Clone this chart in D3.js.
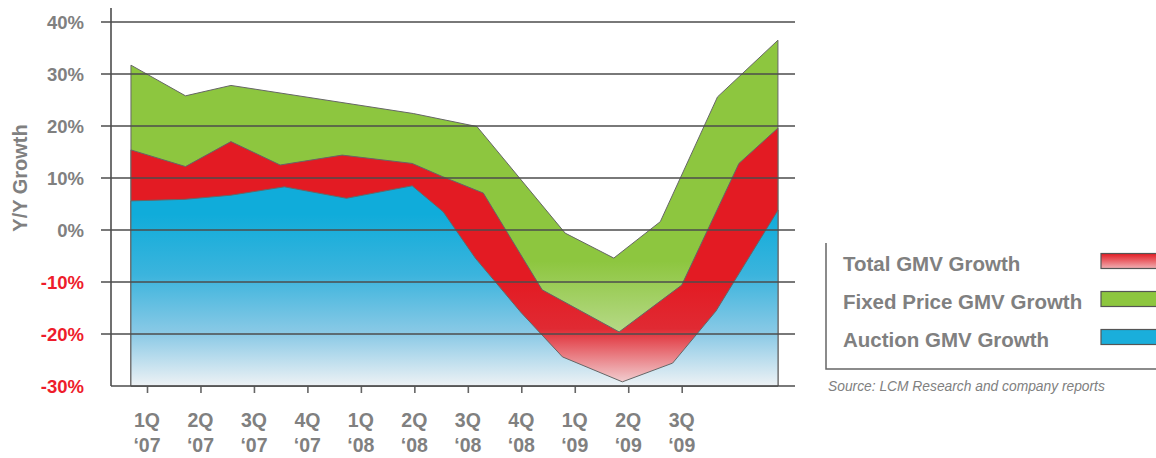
<!DOCTYPE html>
<html>
<head>
<meta charset="utf-8">
<script src="https://cdn.jsdelivr.net/npm/d3@7"></script>
<style>
  body { margin: 0; background: #fff; }
  svg { display: block; font-family: "Liberation Sans", Arial, sans-serif; }
</style>
</head>
<body>
<svg id="chart" width="1156" height="458"></svg>
<script>
// quarter labels (tick positions 0..10)
const quarterLabels = ["1Q", "2Q", "3Q", "4Q", "1Q", "2Q", "3Q", "4Q", "1Q", "2Q", "3Q"];
const yearLabels = ["\u201807", "\u201807", "\u201807", "\u201807", "\u201808", "\u201808", "\u201808", "\u201808", "\u201809", "\u201809", "\u201809"];
const yTicks = [40, 30, 20, 10, 0, -10, -20, -30];

// vertices: position in quarters, growth in %
const fixedX = [-0.3, 0.72, 1.57, 4.98, 6.17, 7.82, 8.73, 9.6, 10.67, 11.8];
const fixedGrowth = [31.7, 25.8, 27.8, 22.4, 19.9, -0.6, -5.4, 1.6, 25.6, 36.5];

const totalX = [-0.3, 0.72, 1.57, 2.49, 3.65, 4.96, 5.52, 6.29, 7.39, 8.83, 10.0, 11.07, 11.8];
const totalGrowth = [15.4, 12.2, 17.0, 12.5, 14.4, 12.8, 10.3, 7.1, -11.5, -19.6, -10.6, 12.8, 19.6];

const auctionX = [-0.3, 0.71, 1.57, 2.57, 3.73, 4.96, 5.54, 6.14, 6.99, 7.77, 8.89, 9.83, 10.64, 11.8];
const auctionGrowth = [5.6, 5.9, 6.7, 8.3, 6.1, 8.5, 3.5, -5.4, -15.8, -24.4, -29.2, -25.6, -15.6, 3.8];

const legendNames = ["Total GMV Growth", "Fixed Price GMV Growth", "Auction GMV Growth"];

const svg = d3.select("#chart");
const grey = "#808080";
const lineCol = "#4d4d4d";

const x = d3.scaleLinear().domain([0, 10]).range([147, 681.7]);
const y = d3.scaleLinear().domain([-30, 40]).range([386, 22]);

// gradients
const defs = svg.append("defs");
function grad(id, stops, y1, y2, units) {
  const g = defs.append("linearGradient")
    .attr("id", id)
    .attr("gradientUnits", units || "userSpaceOnUse")
    .attr("x1", 0).attr("x2", 0)
    .attr("y1", y1).attr("y2", y2);
  stops.forEach(s => g.append("stop").attr("offset", s[0]).attr("stop-color", s[1]));
}
grad("gBlue", [[0, "#10acda"], [0.35, "#3bb4dd"], [0.7, "#8ccae6"], [1, "#eef2f5"]], y(3), y(-30));
grad("gRed", [[0, "#e31b23"], [0.45, "#e02a33"], [1, "#f3dadc"]], y(-10), y(-30));
grad("gGreen", [[0, "#8dc63f"], [1, "#badb8e"]], y(-6), y(-21));
grad("lRed", [[0, "#e31b23"], [1, "#f0b0b4"]], 0, 1, "objectBoundingBox");

const series = [
  { xs: fixedX, vs: fixedGrowth, fill: "url(#gGreen)" },
  { xs: totalX, vs: totalGrowth, fill: "url(#gRed)" },
  { xs: auctionX, vs: auctionGrowth, fill: "url(#gBlue)" }
];

const area = d3.area()
  .x(d => x(d[0]))
  .y0(y(-30))
  .y1(d => y(d[1]));

svg.append("g")
  .selectAll("path")
  .data(series)
  .join("path")
  .attr("d", s => area(d3.zip(s.xs, s.vs)))
  .attr("fill", s => s.fill)
  .attr("stroke", "#666")
  .attr("stroke-width", 1)
  .attr("stroke-linejoin", "round");

// gridlines on top
svg.append("g")
  .selectAll("line")
  .data(yTicks.filter(v => v > -30))
  .join("line")
  .attr("x1", 101).attr("x2", 795)
  .attr("y1", d => y(d)).attr("y2", d => y(d))
  .attr("stroke", lineCol)
  .attr("stroke-width", 1.6);

// axes frame
svg.append("line")
  .attr("x1", 111).attr("x2", 111).attr("y1", 8).attr("y2", y(-30))
  .attr("stroke", lineCol).attr("stroke-width", 1.6);

const xAxis = d3.axisBottom(x)
  .tickValues(d3.range(11))
  .tickSize(7)
  .tickSizeOuter(0)
  .tickFormat("");
const xg = svg.append("g")
  .attr("transform", `translate(0,${y(-30)})`)
  .call(xAxis);
xg.select(".domain").remove();
xg.selectAll(".tick line").attr("stroke", "#666").attr("stroke-width", 1.6);
svg.append("line")
  .attr("x1", 111).attr("x2", 795).attr("y1", y(-30)).attr("y2", y(-30))
  .attr("stroke", lineCol).attr("stroke-width", 1.6);

// x labels
const xl = svg.append("g")
  .selectAll("text")
  .data(d3.range(11))
  .join("text")
  .attr("text-anchor", "middle")
  .attr("font-weight", "bold")
  .attr("font-size", 19.5)
  .attr("fill", grey);
xl.append("tspan").attr("x", d => x(d)).attr("y", 427).text(d => quarterLabels[d]);
xl.append("tspan").attr("x", d => x(d)).attr("y", 452).text(d => yearLabels[d]);

// y labels
svg.append("g")
  .selectAll("text")
  .data(yTicks)
  .join("text")
  .attr("x", 84)
  .attr("y", d => y(d) + 6.5)
  .attr("text-anchor", "end")
  .attr("font-weight", "bold")
  .attr("font-size", 18.5)
  .attr("fill", d => d < 0 ? "#ee1c2b" : grey)
  .text(d => d + "%");

svg.append("text")
  .attr("transform", "translate(27,178) rotate(-90)")
  .attr("text-anchor", "middle")
  .attr("font-weight", "bold")
  .attr("font-size", 20)
  .attr("fill", grey)
  .text("Y/Y Growth");

// legend
svg.append("path")
  .attr("d", "M826,243V369H1156")
  .attr("fill", "none")
  .attr("stroke", "#666")
  .attr("stroke-width", 1.5);

const legFills = ["url(#lRed)", "#8dc63f", "#1aaedb"];
const legY = [270.5, 308.5, 346.5];
const lg = svg.append("g")
  .selectAll("g")
  .data(legendNames)
  .join("g");
lg.append("text")
  .attr("x", 843)
  .attr("y", (d, i) => legY[i])
  .attr("font-weight", "bold")
  .attr("font-size", 20.5)
  .attr("fill", grey)
  .text(d => d);
lg.append("rect")
  .attr("x", 1101)
  .attr("y", (d, i) => legY[i] - 17)
  .attr("width", 60)
  .attr("height", 15)
  .attr("fill", (d, i) => legFills[i])
  .attr("stroke", "#555")
  .attr("stroke-width", 1.2);

svg.append("text")
  .attr("x", 828)
  .attr("y", 391)
  .attr("font-style", "italic")
  .attr("font-size", 13.8)
  .attr("fill", grey)
  .text("Source: LCM Research and company reports");
</script>
</body>
</html>
